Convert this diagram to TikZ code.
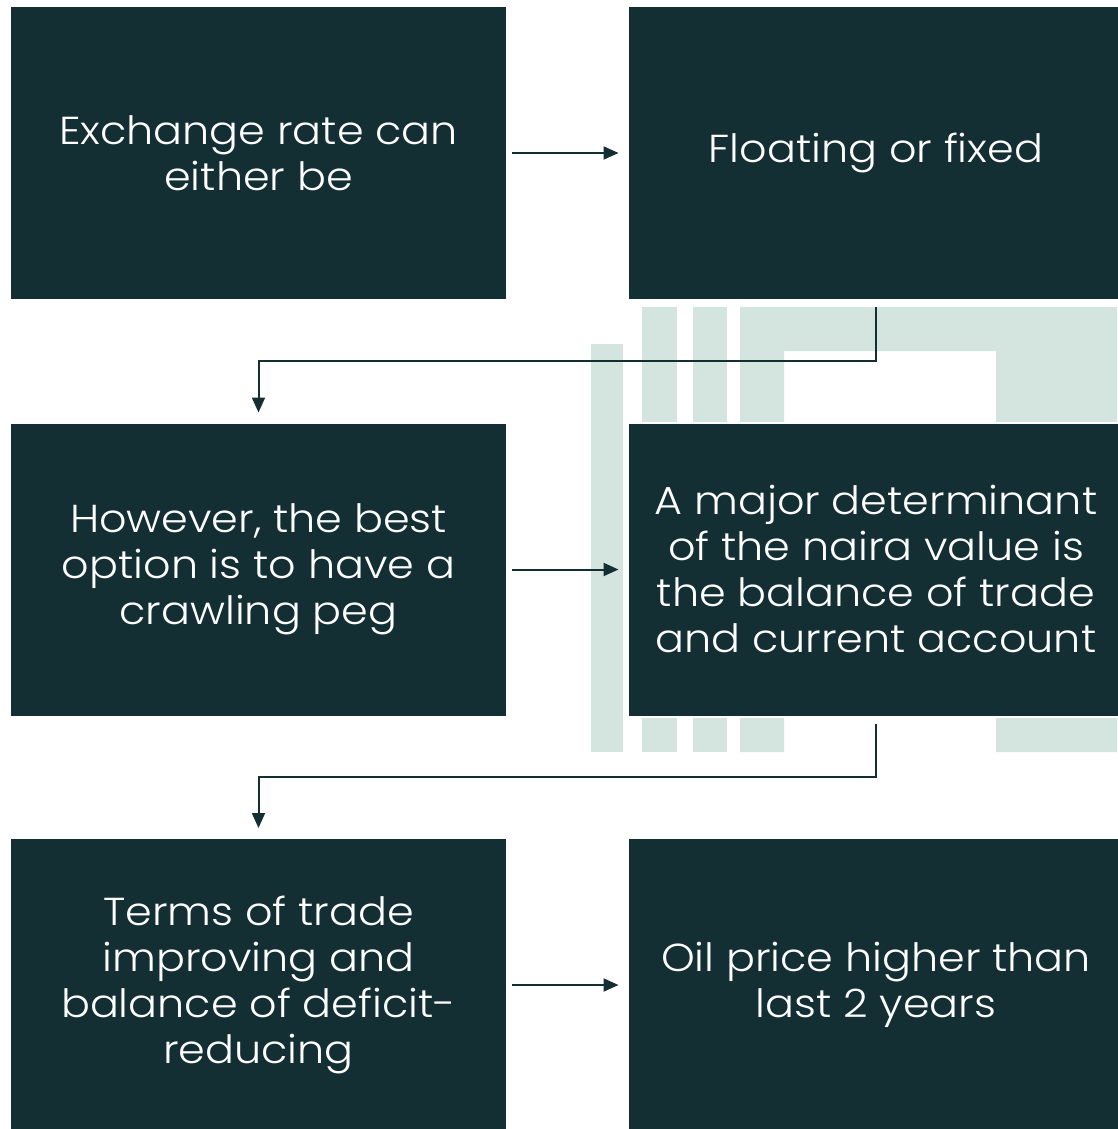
\documentclass[tikz,border=0pt]{standalone}
\usepackage{fontspec}
\setmainfont{Poppins}[UprightFont=* Light, FakeStretch=1.1]
\usetikzlibrary{arrows.meta,calc}

\definecolor{boxdark}{HTML}{132F33}
\definecolor{bgtint}{HTML}{D4E4DF}

\tikzset{
	stepbox/.style = {draw = white, line width = 2pt, fill = boxdark, text = white,
		minimum width = 497pt, minimum height = 294pt, align = center,
		font = \fontsize{39}{46}\selectfont},
	conn/.style = {draw = boxdark, line width = 2pt, -{Triangle[length = 15pt, width = 13pt]}}
}

\begin{document}
\begin{tikzpicture}[x = 1pt, y = -1pt]
	
		\useasboundingbox (0, 0) rectangle (1117, 1129);
		
		\fill[bgtint] (591, 344) rectangle (623, 752);
		\fill[bgtint] (642, 307) rectangle (677, 752);
		\fill[bgtint] (693, 307) rectangle (727, 752);
		\fill[bgtint] (740, 307) -- (1117, 307) -- (1117, 752) -- (996, 752) -- (996, 351) -- (784, 351) -- (784, 752) -- (740, 752) -- cycle;
		
		\node[stepbox] (rate) at (258.5, 153) {Exchange rate can\\either be};
		\node[stepbox] (float) at (876, 153) {Floating or fixed};
		\node[stepbox] (peg) at (258.5, 569.5) {However, the best\\option is to have a\\crawling peg};
		\node[stepbox] (naira) at (876, 569.5) {A major determinant\\of the naira value is\\the balance of trade\\and current account};
		\node[stepbox] (terms) at (258.5, 985) {Terms of trade\\improving and\\balance of deficit-\\reducing};
		\node[stepbox] (oil) at (876, 985) {Oil price higher than\\last 2 years};
		
		\draw[conn, shorten <= 4pt, shorten >= 8pt] (rate) -- (float);
		\draw[conn, shorten <= 4pt, shorten >= 8pt] (peg) -- (naira);
		\draw[conn, shorten <= 4pt, shorten >= 8pt] (terms) -- (oil);
		
		\draw[conn, shorten <= 6pt, shorten >= 9pt] (float.south) |- ($(float.south)!0.5!(peg.north)$) -| (peg.north);
		\draw[conn, shorten <= 6pt, shorten >= 9pt] (naira.south) |- ($(naira.south)!0.5!(terms.north)$) -| (terms.north);
	
	\end{tikzpicture}
\end{document}
